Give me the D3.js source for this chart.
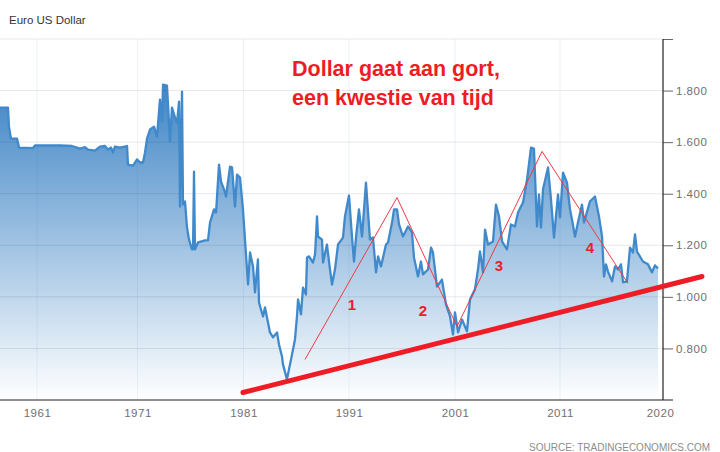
<!DOCTYPE html>
<html>
<head>
<meta charset="utf-8">
<script src="https://cdn.jsdelivr.net/npm/d3@7"></script>
<style>
html, body { margin: 0; padding: 0; background: #fff; }
svg { display: block; font-family: "Liberation Sans", Arial, sans-serif; }
</style>
</head>
<body>
<svg id="chart" width="720" height="452"></svg>
<script>
// koers per jaar
var years = [
	1957.3, 1958.11, 1958.21, 1958.41, 1959.01, 1959.21, 1960.6, 1960.8, 1963.29, 1964.48, 1965.28, 1965.78, 1966.07, 1966.77, 1967.27, 1967.77, 1968.06, 1968.36, 1968.56, 1968.76, 1969.26, 1969.96,
	1970.05, 1970.55, 1970.75, 1970.95, 1971.24, 1971.52, 1971.71, 1971.9, 1972.18, 1972.56, 1972.84, 1973.12, 1973.31, 1973.41, 1973.78, 1974.07, 1974.25, 1974.54, 1974.73, 1974.92, 1975.01, 1975.2, 1975.29, 1975.48, 1975.67, 1975.86, 1976.14, 1976.24, 1976.33, 1976.42, 1976.71, 1977.37, 1977.65, 1977.84, 1978.22, 1978.41, 1978.69, 1978.88, 1979.17, 1979.35, 1979.73, 1979.92, 1980.2, 1980.39, 1980.67,
	1980.95, 1981.14, 1981.43, 1981.62, 1981.9, 1982.09, 1982.37, 1982.47, 1982.85, 1983.04, 1983.51, 1983.8, 1984.18, 1984.36, 1984.65, 1984.74, 1985.12, 1985.6, 1985.88, 1986.07, 1986.17, 1986.45, 1986.64, 1986.92, 1987.02, 1987.21, 1987.59, 1987.78, 1987.97, 1988.06, 1988.44, 1988.54, 1988.91, 1989.2, 1989.39, 1989.67, 1989.96, 1990.43, 1990.62, 1991,
	1991.28, 1991.47, 1991.66, 1991.94, 1992.23, 1992.6, 1992.98, 1993.26, 1993.55, 1993.74, 1994.02, 1994.49, 1994.68, 1995.06, 1995.25, 1995.53, 1995.72, 1996.09, 1996.57, 1996.94, 1997.13, 1997.51, 1997.79, 1997.98, 1998.45, 1998.74, 1998.92, 1999.3, 1999.77, 2000.15, 2000.53, 2000.81,
	2001, 2001.29, 2001.67, 2002.14, 2002.43, 2002.9, 2003.19, 2003.38, 2003.67, 2003.86, 2004.14, 2004.62, 2004.9, 2005.19, 2005.48, 2005.95, 2006.33, 2006.71, 2007, 2007.48, 2007.86, 2008.24, 2008.52, 2008.81, 2009, 2009.19, 2009.38, 2009.86, 2010.14, 2010.43, 2010.81,
	2011, 2011.28, 2011.64, 2011.92, 2012.1, 2012.38, 2012.65, 2013.02, 2013.2, 2013.75, 2014.21, 2014.58, 2014.86, 2015.04, 2015.22, 2015.41, 2015.78, 2016.05, 2016.33, 2016.6, 2016.79, 2017.15, 2017.43, 2017.7, 2017.89, 2018.07, 2018.62, 2019.08, 2019.45, 2019.72, 2020
];
var rates = [
	1.734, 1.734, 1.66, 1.614, 1.614, 1.579, 1.577, 1.587, 1.587, 1.585, 1.575, 1.581, 1.571, 1.567, 1.583, 1.585, 1.571, 1.579, 1.56, 1.583, 1.579, 1.585,
	1.513, 1.509, 1.521, 1.533, 1.521, 1.521, 1.56, 1.614, 1.649, 1.66, 1.622, 1.765, 1.68, 1.823, 1.819, 1.602, 1.734, 1.695, 1.676, 1.757, 1.35, 1.796, 1.358, 1.37, 1.269, 1.222, 1.184, 1.184, 1.486, 1.184, 1.211, 1.219, 1.219, 1.288, 1.339, 1.327, 1.513, 1.447, 1.416, 1.389, 1.505, 1.502, 1.35, 1.474, 1.463,
	1.339, 1.222, 1.048, 1.172, 1.118, 1.017, 1.145, 0.978, 0.924, 0.959, 0.862, 0.843, 0.862, 0.816, 0.769, 0.738, 0.68, 0.777, 0.835, 0.924, 0.99, 0.932, 1.036, 1.009, 1.153, 1.157, 1.133, 1.164, 1.312, 1.234, 1.222, 1.133, 1.203, 1.106, 1.048, 1.106, 1.203, 1.23, 1.312, 1.393,
	1.234, 1.137, 1.23, 1.339, 1.234, 1.443, 1.222, 1.23, 1.095, 1.157, 1.118, 1.203, 1.211, 1.288, 1.339, 1.339, 1.281, 1.234, 1.273, 1.25, 1.153, 1.079, 1.137, 1.087, 1.106, 1.191, 1.172, 1.04, 1.067, 0.971, 0.924, 0.854,
	0.94, 0.862, 0.912, 0.866, 0.99, 1.029, 1.106, 1.176, 1.095, 1.261, 1.203, 1.215, 1.358, 1.312, 1.215, 1.184, 1.281, 1.273, 1.327, 1.366, 1.455, 1.579, 1.575, 1.273, 1.397, 1.269, 1.416, 1.502, 1.378, 1.23, 1.397,
	1.308, 1.482, 1.443, 1.339, 1.3, 1.234, 1.288, 1.358, 1.288, 1.37, 1.389, 1.312, 1.234, 1.079, 1.126, 1.098, 1.06, 1.118, 1.106, 1.126, 1.056, 1.06, 1.191, 1.172, 1.242, 1.176, 1.137, 1.126, 1.095, 1.122, 1.11
];

// ingetekende lijnen
var zigzagYears = [1986.83, 1995.53, 2001.19, 2009.29, 2017.24];
var zigzagRates = [0.757, 1.385, 0.885, 1.564, 1.052];
var trendYears = [1980.95, 2024.04];
var trendRates = [0.629, 1.079];

// golf nummers
var waveLabels = ["1", "2", "3", "4"];
var waveYears = [1991.28, 1997.98, 2005.19, 2013.75];
var waveRates = [0.968, 0.945, 1.122, 1.19];

var xTicks = [1961, 1971, 1981, 1991, 2001, 2011, 2020];
var yTicks = [0.8, 1.0, 1.2, 1.4, 1.6, 1.8];
var headline = ["Dollar gaat aan gort,", "een kwestie van tijd"];

var svg = d3.select("#chart");
var plotTop = 39, plotBottom = 400, axisX = 663;

// de x-as is niet helemaal lineair in het origineel, dus per tick
var x = d3.scaleLinear()
			.domain(xTicks)
			.range([37, 137.5, 243.5, 349, 455, 560, 658]);
var y = d3.scaleLinear()
			.domain([0.6, 2.0])
			.range([plotBottom, plotTop]);

var points = years.map(function(d, i) { return [d, rates[i]]; });

var defs = svg.append("defs");
var grad = defs.append("linearGradient")
			.attr("id", "areaFill")
			.attr("gradientUnits", "userSpaceOnUse")
			.attr("x1", 0).attr("x2", 0)
			.attr("y1", 85).attr("y2", plotBottom);
grad.append("stop").attr("offset", "0%").attr("stop-color", "#3f85c6");
grad.append("stop").attr("offset", "100%").attr("stop-color", "#ffffff");

// vlak
var area = d3.area()
			.x(function(d) { return x(d[0]); })
			.y0(plotBottom)
			.y1(function(d) { return y(d[1]); });
svg.append("path")
	.datum(points)
	.attr("fill", "url(#areaFill)")
	.attr("d", area);

// grid
svg.append("g").selectAll("line")
	.data(yTicks.concat([2.0]))
	.enter().append("line")
	.attr("x1", 0).attr("x2", axisX)
	.attr("y1", function(d) { return y(d); })
	.attr("y2", function(d) { return y(d); })
	.attr("stroke", "#000")
	.attr("stroke-opacity", 0.09);
svg.append("g").selectAll("line")
	.data(xTicks.slice(0, -1))
	.enter().append("line")
	.attr("x1", function(d) { return x(d); })
	.attr("x2", function(d) { return x(d); })
	.attr("y1", plotTop).attr("y2", plotBottom)
	.attr("stroke", "#3a6ea5")
	.attr("stroke-opacity", 0.09);

// koerslijn
var line = d3.line()
			.x(function(d) { return x(d[0]); })
			.y(function(d) { return y(d[1]); });
svg.append("path")
	.datum(points)
	.attr("fill", "none")
	.attr("stroke", "#4089cb")
	.attr("stroke-width", 2.3)
	.attr("stroke-linejoin", "round")
	.attr("d", line);

// assen
var xAxis = svg.append("g")
	.attr("transform", "translate(0," + plotBottom + ")")
	.call(d3.axisBottom(x).tickValues(xTicks).tickFormat(d3.format("d")).tickSize(0).tickPadding(9));
xAxis.select(".domain").remove();
xAxis.selectAll("text")
	.attr("fill", "#707070")
	.style("font-size", "11.5px")
	.style("font-family", "'Liberation Sans', Arial, sans-serif")
	.style("letter-spacing", "0.5px");
xAxis.selectAll(".tick").filter(function(d) { return d == 2020; }).select("text").attr("dx", 2);
svg.append("line")
	.attr("x1", 0).attr("x2", 673)
	.attr("y1", plotBottom).attr("y2", plotBottom)
	.attr("stroke", "#222").attr("stroke-width", 1.2);

var yAxis = svg.append("g")
	.attr("transform", "translate(" + axisX + ",0)")
	.call(d3.axisRight(y).tickValues(yTicks.concat([2.0])).tickFormat(function(d) { return d == 2 ? "" : d3.format(".3f")(d); }).tickSize(10).tickPadding(3));
yAxis.select(".domain").remove();
yAxis.selectAll("line").attr("stroke", "#666");
yAxis.selectAll("text")
	.attr("fill", "#707070")
	.style("font-size", "11.5px")
	.style("font-family", "'Liberation Sans', Arial, sans-serif")
	.style("letter-spacing", "0.5px");
svg.append("line")
	.attr("x1", axisX).attr("x2", axisX)
	.attr("y1", plotTop).attr("y2", plotBottom)
	.attr("stroke", "#222").attr("stroke-width", 1.2);

// ingetekende lijnen
var zigzag = zigzagYears.map(function(d, i) { return [d, zigzagRates[i]]; });
svg.append("path")
	.datum(zigzag)
	.attr("fill", "none")
	.attr("stroke", "#ee3b45")
	.attr("stroke-width", 1)
	.attr("d", line);

var trend = trendYears.map(function(d, i) { return [d, trendRates[i]]; });
svg.append("path")
	.datum(trend)
	.attr("fill", "none")
	.attr("stroke", "#ee1c25")
	.attr("stroke-width", 5)
	.attr("stroke-linecap", "round")
	.attr("d", line);

svg.append("g").selectAll("text")
	.data(waveLabels)
	.enter().append("text")
	.attr("x", function(d, i) { return x(waveYears[i]); })
	.attr("y", function(d, i) { return y(waveRates[i]); })
	.attr("text-anchor", "middle")
	.attr("dy", "0.35em")
	.attr("fill", "#e8202a")
	.style("font-size", "15px")
	.style("font-weight", "bold")
	.text(function(d) { return d; });

// teksten
svg.append("text")
	.attr("x", 9).attr("y", 24)
	.attr("fill", "#333")
	.style("font-size", "11.5px")
	.text("Euro US Dollar");

svg.append("g").selectAll("text")
	.data(headline)
	.enter().append("text")
	.attr("x", 292)
	.attr("y", function(d, i) { return 76 + i * 28.5; })
	.attr("fill", "#ee1c25")
	.style("font-size", "21.5px")
	.style("font-weight", "bold")
	.text(function(d) { return d; });

svg.append("text")
	.attr("x", 710).attr("y", 451)
	.attr("text-anchor", "end")
	.attr("fill", "#8c8c8c")
	.style("font-size", "10px")
	.text("SOURCE: TRADINGECONOMICS.COM");
</script>
</body>
</html>
